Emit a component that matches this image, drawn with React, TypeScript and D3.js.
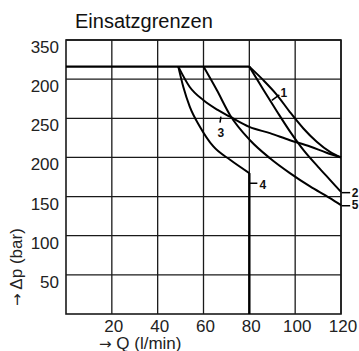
import React from "react";
import * as d3 from "d3";

// Einsatzgrenzen: pressure drop limits vs. flow
const qTicks = [20, 40, 60, 80, 100, 120];
const pTicks = [50, 100, 150, 200, 250, 300, 350];
const pTickLabels = ["50", "100", "150", "200", "250", "200", "350"];

const topLimit: [number, number][] = [[0, 316], [80, 316]];
const curve1: [number, number][] = [[80, 316], [86, 299], [92, 280], [97.7, 258], [103.6, 237], [109.4, 220], [115.2, 207], [120, 200]];
const curve2: [number, number][] = [[80, 316], [86, 287], [92, 259], [98, 232], [104, 208], [110, 188], [115, 172], [120, 156]];
const curve3: [number, number][] = [[49, 316], [54, 290], [60, 273], [66, 261], [71.6, 252], [80, 239], [89, 231], [97.7, 222], [106.5, 214], [113.7, 206], [120, 200]];
const curve4: [number, number][] = [[49, 316], [51.2, 290], [54, 265], [58.5, 239], [64.3, 214], [71.6, 197], [80, 180]];
const curve4drop: [number, number][] = [[80, 180], [80, 0]];
const curve5: [number, number][] = [[60, 316], [65.8, 286], [71.6, 254], [80.3, 222], [89, 199], [97.7, 180], [106.5, 163], [115.2, 148], [120, 139]];

// curve labels: leader line from/to and text anchor, in data units
const curveLabels = [
  { name: "1", from: [89.8, 273], to: [93.1, 280], at: [93.6, 277], anchor: "start" },
  { name: "3", from: [67.6, 252], to: [67.2, 244.5], at: [67.6, 226.4], anchor: "middle" },
  { name: "4", from: [80.3, 167], to: [83.5, 167], at: [84.4, 159.7], anchor: "start" },
  { name: "2", from: [120.3, 155], to: [124, 155], at: [124.7, 150], anchor: "start" },
  { name: "5", from: [120.3, 138.3], to: [124, 138.3], at: [124.7, 134], anchor: "start" },
];

const W = 359;
const H = 351;
const left = 66, right = 341, top = 40, bottom = 314;
const font = "'Liberation Sans', Arial, sans-serif";
const arrowFont = "'DejaVu Sans', sans-serif";

export default function App() {
  const x = d3.scaleLinear().domain([0, 120]).range([left, right]);
  const y = d3.scaleLinear().domain([0, 350]).range([bottom, top]);

  const smooth = d3.line<[number, number]>().x(d => x(d[0])).y(d => y(d[1])).curve(d3.curveMonotoneX);
  const straight = d3.line<[number, number]>().x(d => x(d[0])).y(d => y(d[1]));

  return (
    <svg width={W} height={H} style={{ position: "absolute", left: 0, top: 0, background: "#fff" }}>
      <text x={75} y={28} fontFamily={font} fontSize={20} fill="#111">Einsatzgrenzen</text>

      {/* grid */}
      <g stroke="#1a1a1a" strokeWidth={1.3} fill="none">
        {qTicks.map(q => (
          <line key={"v" + q} x1={x(q)} x2={x(q)} y1={y(0)} y2={y(350)} />
        ))}
        {pTicks.map(p => (
          <line key={"h" + p} x1={x(0)} x2={x(120)} y1={y(p)} y2={y(p)} />
        ))}
        <rect x={x(0)} y={y(350)} width={x(120) - x(0)} height={y(0) - y(350)} strokeWidth={1.6} />
      </g>

      {/* limit curves */}
      <g stroke="#000" strokeWidth={2} fill="none" strokeLinejoin="round">
        <path d={straight(topLimit) || ""} strokeWidth={2.4} />
        <path d={smooth(curve1) || ""} />
        <path d={smooth(curve2) || ""} />
        <path d={smooth(curve3) || ""} />
        <path d={smooth(curve4) || ""} />
        <path d={straight(curve4drop) || ""} strokeWidth={2.4} />
        <path d={smooth(curve5) || ""} />
      </g>

      {curveLabels.map(l => (
        <g key={l.name}>
          <line x1={x(l.from[0])} y1={y(l.from[1])} x2={x(l.to[0])} y2={y(l.to[1])} stroke="#000" strokeWidth={1.5} />
          <text x={x(l.at[0])} y={y(l.at[1])} textAnchor={l.anchor} fontFamily={font} fontSize={12} fontWeight="bold" fill="#111">{l.name}</text>
        </g>
      ))}

      {/* y ticks */}
      {pTicks.map((p, i) => (
        <text key={"yl" + p} x={59} y={y(p) + 13} textAnchor="end" fontFamily={font} fontSize={17} fill="#222">{pTickLabels[i]}</text>
      ))}
      {/* x ticks */}
      {qTicks.map(q => (
        <text key={"xl" + q} x={x(q) + 2} y={332} textAnchor="middle" fontFamily={font} fontSize={17} fill="#222">{q}</text>
      ))}

      <text x={99} y={349} fontFamily={font} fontSize={17} fill="#222">
        <tspan fontFamily={arrowFont} fontSize={15}>→</tspan> Q (l/min)
      </text>
      <text transform="translate(22,306) rotate(-90)" fontFamily={font} fontSize={17} fill="#222">
        <tspan fontFamily={arrowFont} fontSize={15}>→</tspan> Δp (bar)
      </text>
    </svg>
  );
}
